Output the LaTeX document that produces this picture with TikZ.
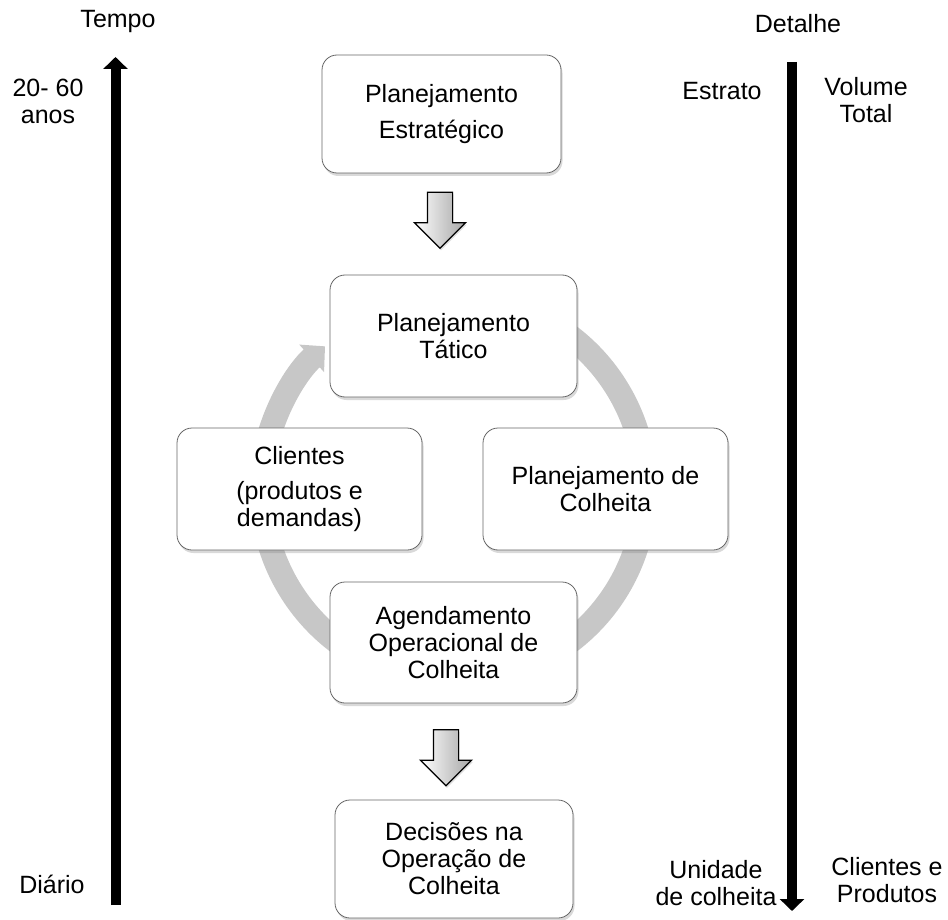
\documentclass[tikz,border=0pt]{standalone}
\usepackage{fontspec}
\setmainfont{Liberation Sans}
\usetikzlibrary{arrows.meta, shapes.arrows, shadows, calc}

\begin{document}
\begin{tikzpicture}[
    x=1pt, y=-1pt,
    caixa/.style={rectangle, rounded corners=15pt, draw=black!60, fill=white, line width=0.8pt, minimum width=247pt, minimum height=122pt, align=center, inner sep=0pt, font=\fontsize{25}{27}\selectfont, drop shadow={shadow xshift=1.5pt, shadow yshift=-3pt, opacity=0.3}},
    seta/.style={single arrow, draw=black, line width=1.2pt, rotate=-90, minimum height=56pt, inner xsep=0pt, inner ysep=12pt, single arrow head extend=13pt, single arrow head indent=0pt, left color=white, right color=black!35, drop shadow={shadow xshift=1pt, shadow yshift=-2pt, opacity=0.25}},
    rotulo/.style={align=center, inner sep=0pt, font=\fontsize{25}{27}\selectfont, anchor=base},
    eixo/.style={line width=10pt, -{Triangle[width=24pt, length=12pt]}},
    anel/.style={line width=24pt, black!22, -{Triangle[width=36pt, length=18pt]}}
]
\useasboundingbox (0,0) rectangle (948,920);

% Ciclo (atras das caixas)
\coordinate (centro) at (453.5,489);
\draw[anel] ($(centro)+(75:192pt)$) arc[start angle=75, end angle=-228, radius=192pt];

% Caixas
\node[caixa, minimum width=239pt, minimum height=118pt] (estrat) at (441.5,114) {Planejamento\\[9pt]Estratégico};
\node[caixa] (tatico) at (453.5,336) {Planejamento\\Tático};
\node[caixa, minimum width=245pt] (clientes) at (299.5,489) {Clientes\\[8pt](produtos e\\demandas)};
\node[caixa, minimum width=245pt] (colheita) at (605.5,489) {Planejamento de\\Colheita};
\node[caixa, minimum height=121pt] (agenda) at (453.5,642.5) {Agendamento\\Operacional de\\Colheita};
\node[caixa, minimum width=238pt, minimum height=118pt] (decisoes) at (454,859) {Decisões na\\Operação de\\Colheita};

% Setas largas
\node[seta] (seta1) at (440,214) {};
\node[seta] (seta2) at (446,751.5) {};

% Eixo do tempo
\coordinate (tempobase) at (115.5,905);
\coordinate (tempotopo) at (115.5,57);
\draw[eixo] (tempobase) -- (tempotopo);
\node[rotulo] (tempo) at (118,28) {Tempo};
\node[rotulo] (anos) at (48,124) {20- 60\\anos};
\node[rotulo] (diario) at (52,893) {Diário};

% Eixo do detalhe
\coordinate (detalhetopo) at (792,62);
\coordinate (detalhebase) at (792,911);
\draw[eixo] (detalhetopo) -- (detalhebase);
\node[rotulo] (detalhe) at (798,33) {Detalhe};
\node[rotulo] (estrato) at (722,100) {Estrato};
\node[rotulo] (volume) at (866,123) {Volume\\Total};
\node[rotulo] (unidade) at (716,905) {Unidade\\de colheita};
\node[rotulo] (clientprod) at (887,902) {Clientes e\\Produtos};

\end{tikzpicture}
\end{document}
